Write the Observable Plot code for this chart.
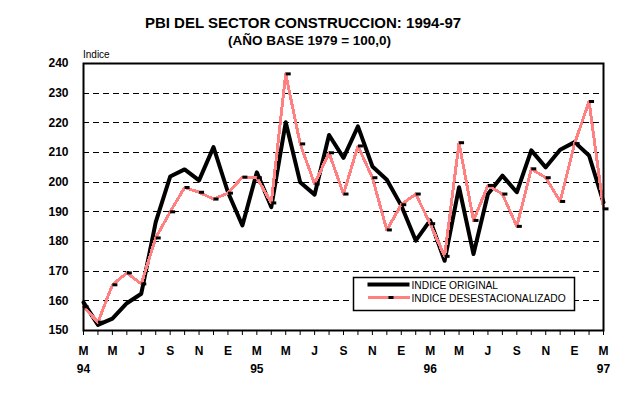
<!DOCTYPE html>
<html><head><meta charset="utf-8">
<script src="https://cdn.jsdelivr.net/npm/d3@7"></script>
<script src="https://cdn.jsdelivr.net/npm/@observablehq/plot@0.6"></script>
<style>
body{margin:0;background:#fff;}
#wrap{position:relative;width:636px;height:397px;font-family:"Liberation Sans",Arial,sans-serif;}
#wrap svg{position:absolute;left:0;top:0;}
</style>
</head><body>
<div id="wrap"></div>
<script>
// Month index 0 = March 1994 ... 36 = March 1997
const indiceOriginal = [159.5,151.9,154,159.2,162.4,186.5,201.9,204.3,200.6,211.8,196.6,185.4,
  203.3,191.6,220.2,200,195.8,215.9,208.2,218.8,205.3,200.8,192.1,180.3,
  187.1,173.5,198.3,175.8,196,202.2,196.6,210.7,205,210.9,213.5,209,193.2];
const indiceDesest = [158,152.8,165.4,169.4,165.7,181.2,190,198.2,196.6,194.3,196.3,201.7,
  201.5,193,236.5,212.9,199.4,209.9,196,212.2,201.5,183.9,192.4,196,
  186,175,213.3,187.1,198.9,196,185.1,204.5,201.5,193.5,213,227.2,191];
const monthLabels = ["M","M","J","S","N","E","M","M","J","S","N","E","M","M","J","S","N","E","M"];
const yearLabels = ["94","95","96","97"];
const yTicks = [150,160,170,180,190,200,210,220,230,240];
const title = "PBI DEL SECTOR CONSTRUCCION: 1994-97";
const subtitle = "(AÑO BASE 1979 = 100,0)";
const yLabel = "Indice";
const seriesNames = ["INDICE ORIGINAL","INDICE DESESTACIONALIZADO"];

const rows = indiceOriginal.map((v,i)=>({i, orig:v, desest:indiceDesest[i]}));
const monthIdx = d3.range(indiceOriginal.length);
const labelIdx = monthLabels.map((_,k)=>k*2);
const yearIdx = yearLabels.map((_,k)=>k*12);

const marker = {draw(ctx){ ctx.rect(0,-1.5,5,3); }};

const chart = Plot.plot({
  width:636, height:397,
  marginLeft:83, marginRight:33, marginTop:63, marginBottom:67,
  style:{fontFamily:"Liberation Sans, Arial, sans-serif", fontSize:"12px", fontWeight:"bold", color:"#000", background:"transparent", overflow:"visible"},
  x:{domain:[0,36], label:null},
  y:{domain:[150,240], label:null},
  marks:[
    Plot.ruleY(yTicks.filter(v=>v>150 && v<240), {stroke:"#000", strokeDasharray:"6,4", strokeWidth:1, shapeRendering:"crispEdges"}),
    Plot.axisY({ticks:yTicks, tickSize:0, tickPadding:15, tickFormat:d=>String(d), fontWeight:"bold", label:null}),
    Plot.axisX({ticks:monthIdx, tickSize:5, tickFormat:()=>"", label:null}),
    Plot.axisX({ticks:labelIdx, tickSize:0, tickPadding:15.5, tickFormat:d=>monthLabels[d/2], fontWeight:"bold", label:null}),
    Plot.axisX({ticks:yearIdx, tickSize:0, tickPadding:33.5, tickFormat:d=>yearLabels[d/12], fontWeight:"bold", label:null}),
    Plot.line(rows, {x:"i", y:"orig", stroke:"#000", strokeWidth:4}),
    Plot.line(rows, {x:"i", y:"desest", stroke:"url(#chk)", strokeWidth:3, shapeRendering:"crispEdges"}),
    Plot.dot(rows, {x:"i", y:"desest", symbol:marker, fill:"#000", stroke:"none", r:3}),
    Plot.frame({stroke:"#000", strokeWidth:2})
  ]
});

const defs = d3.select(chart).insert("defs", ":first-child");
const p = defs.append("pattern").attr("id","chk").attr("width",2).attr("height",2).attr("patternUnits","userSpaceOnUse");
p.append("rect").attr("width",2).attr("height",2).attr("fill","#fff");
p.append("rect").attr("width",1).attr("height",1).attr("fill","#f00");
p.append("rect").attr("x",1).attr("y",1).attr("width",1).attr("height",1).attr("fill","#f00");

document.getElementById("wrap").appendChild(chart);

// Overlay: titles, y label, legend
const ov = d3.select("#wrap").append("svg").attr("width",636).attr("height",397)
  .style("font-family","Liberation Sans, Arial, sans-serif");
ov.append("text").attr("x",303).attr("y",28).attr("text-anchor","middle")
  .attr("font-weight","bold").attr("font-size",15).text(title);
ov.append("text").attr("x",309.5).attr("y",45).attr("text-anchor","middle")
  .attr("font-weight","bold").attr("font-size",13.5).text(subtitle);
ov.append("text").attr("x",83).attr("y",58).attr("font-size",10).text(yLabel);

const lg = ov.append("g").attr("transform","translate(353.5,277.5)");
lg.append("rect").attr("width",221).attr("height",33).attr("fill","#fff").attr("stroke","#000").attr("stroke-width",1.5);
lg.append("line").attr("x1",14).attr("x2",56).attr("y1",7).attr("y2",7).attr("stroke","#000").attr("stroke-width",4);
lg.append("line").attr("x1",14).attr("x2",56).attr("y1",20).attr("y2",20).attr("stroke","url(#chk)").attr("stroke-width",3).attr("shape-rendering","crispEdges");
lg.append("rect").attr("x",35).attr("y",18.5).attr("width",5).attr("height",3).attr("fill","#000");
lg.append("text").attr("x",58).attr("y",11).attr("font-size",10.25).text(seriesNames[0]);
lg.append("text").attr("x",58).attr("y",24).attr("font-size",10.25).text(seriesNames[1]);
</script>
</body></html>
